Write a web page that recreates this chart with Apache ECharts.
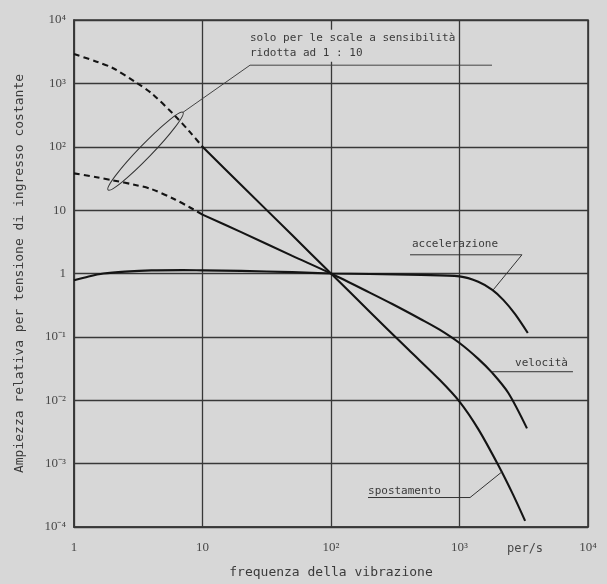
<!DOCTYPE html>
<html>
<head>
<meta charset="utf-8">
<script src="https://cdn.jsdelivr.net/npm/echarts@6/dist/echarts.min.js"></script>
<style>
html,body{margin:0;padding:0;background:#d7d7d7;}
#c{width:607px;height:584px;}
</style>
</head>
<body>
<div id="c"></div>
<script>
// ---- data ----
var xTickLabels = ['1', '10', '10\u00B2', '10\u00B3', '10\u2074'];
var yTickLabels = ['10\u207B\u2074', '10\u207B\u00B3', '10\u207B\u00B2', '10\u207B\u00B9', '1', '10', '10\u00B2', '10\u00B3', '10\u2074'];

// accelerazione
var accelF = [1, 1.3, 1.7, 2.5, 4, 7, 10, 20, 50, 100, 200, 500, 1000, 1400, 1800, 2200, 2700, 3400];
var accelA = [0.78, 0.9, 1.0, 1.07, 1.12, 1.13, 1.12, 1.1, 1.05, 1.0, 0.98, 0.95, 0.9, 0.74, 0.55, 0.38, 0.23, 0.115];

// velocità (dashed part: only for reduced sensitivity scales)
var veloDashF = [1, 1.5, 2, 3, 4, 6, 8, 10];
var veloDashA = [38, 33, 29.5, 25, 21.5, 15, 11, 8.5];
var veloF = [10, 20, 50, 100, 200, 300, 500, 700, 1000, 1400, 1800, 2400, 3350];
var veloA = [8.5, 4.5, 1.9, 1.0, 0.5, 0.33, 0.19, 0.13, 0.08, 0.045, 0.027, 0.013, 0.0036];

// spostamento
var dispDashF = [1, 1.5, 2, 3, 4, 6, 8, 10];
var dispDashA = [2900, 2200, 1750, 1050, 700, 320, 170, 100];
var dispF = [10, 20, 50, 100, 200, 400, 700, 1000, 1400, 2000, 2600, 3240];
var dispA = [100, 25, 4, 1.0, 0.25, 0.063, 0.021, 0.0095, 0.0035, 0.00095, 0.00033, 0.000125];

function pairs(f, a) { return f.map(function (v, i) { return [v, a[i]]; }); }

var chart = echarts.init(document.getElementById('c'), null, {renderer: 'canvas'});
var ink = '#141414';
var gridCol = '#383838';
var txtCol = '#3a3a3a';
var mono = 'DejaVu Sans Mono';

function lineSeries(f, a, dashed) {
  return {
    type: 'line', data: pairs(f, a), showSymbol: false, smooth: 0.3,
    lineStyle: {color: ink, width: 2.1, type: dashed ? [6, 4] : 'solid'},
    silent: true, animation: false, z: 5
  };
}

chart.setOption({
  backgroundColor: '#d7d7d7',
  animation: false,
  grid: {left: 74, right: 19, top: 20, bottom: 51, show: true, borderColor: gridCol, borderWidth: 1.6},
  xAxis: {
    type: 'log', logBase: 10, min: 1, max: 10000, splitNumber: 4,
    name: 'frequenza della vibrazione', nameLocation: 'middle', nameGap: 39,
    nameTextStyle: {color: txtCol, fontSize: 13, fontFamily: mono},
    axisLine: {show: true, lineStyle: {color: gridCol, width: 1.6}},
    axisTick: {show: false},
    axisLabel: {
      color: '#484848', fontSize: 13, fontFamily: 'Liberation Serif', margin: 14,
      formatter: function (v) { return xTickLabels[Math.round(Math.log10(v))]; }
    },
    splitLine: {show: true, lineStyle: {color: gridCol, width: 1.3}},
    minorTick: {show: false}
  },
  yAxis: {
    type: 'log', logBase: 10, min: 0.0001, max: 10000, splitNumber: 8,
    name: 'Ampiezza relativa per tensione di ingresso costante', nameLocation: 'middle', nameGap: 48,
    nameTextStyle: {color: txtCol, fontSize: 13, fontFamily: mono},
    axisLine: {show: true, lineStyle: {color: gridCol, width: 1.6}},
    axisTick: {show: false},
    axisLabel: {
      color: '#484848', fontSize: 13, fontFamily: 'Liberation Serif', margin: 8,
      formatter: function (v) { return yTickLabels[Math.round(Math.log10(v)) + 4]; }
    },
    splitLine: {show: true, lineStyle: {color: gridCol, width: 1.3}}
  },
  series: [
    lineSeries(accelF, accelA, false),
    lineSeries(veloDashF, veloDashA, true),
    lineSeries(veloF, veloA, false),
    lineSeries(dispDashF, dispDashA, true),
    lineSeries(dispF, dispA, false)
  ]
});

// ---- annotations, anchored in data space (log10 f, log10 A) ----
function P(lx, ly) { return chart.convertToPixel({gridIndex: 0}, [Math.pow(10, lx), Math.pow(10, ly)]); }
var thin = {stroke: '#333', lineWidth: 1, fill: 'none'};
var tfont = '11px ' + mono;
var g = [];

// ellipse round the dashed parts + leader + note
var eA = P(0.265, 1.318), eB = P(0.848, 2.543);
var ecx = (eA[0] + eB[0]) / 2, ecy = (eA[1] + eB[1]) / 2;
var erx = Math.sqrt(Math.pow(eB[0] - eA[0], 2) + Math.pow(eB[1] - eA[1], 2)) / 2;
var eang = Math.atan2(eA[1] - eB[1], eB[0] - eA[0]);
g.push({type: 'ellipse', x: ecx, y: ecy, rotation: eang, shape: {cx: 0, cy: 0, rx: erx, ry: 6.5}, style: thin, z: 10});
var l1 = P(1.37, 3.287), l2 = P(3.253, 3.287);
g.push({type: 'polyline', shape: {points: [eB, l1, l2]}, style: {stroke: '#444', lineWidth: 1, fill: 'none'}, z: 10});
var nt = P(1.354, 3.72);
g.push({type: 'text', x: nt[0], y: nt[1] - 8, style: {
  text: 'solo per le scale a sensibilità\nridotta ad 1 : 10', font: tfont, fill: txtCol, lineHeight: 15,
  backgroundColor: '#d7d7d7', padding: [1, 2]
}, z: 9});

// accelerazione
var a1 = P(2.615, 0.295), a2 = P(3.486, 0.295), a3 = P(3.26, -0.264), at = P(2.63, 0.465);
g.push({type: 'polyline', shape: {points: [a1, a2, a3]}, style: thin, z: 10});
g.push({type: 'text', x: at[0], y: at[1], style: {text: 'accelerazione', font: tfont, fill: txtCol, verticalAlign: 'middle'}, z: 10});

// velocità
var v1 = P(3.253, -1.55), v2 = P(3.883, -1.55), vt = P(3.432, -1.41);
g.push({type: 'polyline', shape: {points: [v1, v2]}, style: thin, z: 10});
g.push({type: 'text', x: vt[0], y: vt[1], style: {text: 'velocità', font: tfont, fill: txtCol, verticalAlign: 'middle'}, z: 10});

// spostamento
var s1 = P(2.288, -3.535), s2 = P(3.082, -3.535), s3 = P(3.33, -3.13), st = P(2.288, -3.43);
g.push({type: 'polyline', shape: {points: [s1, s2, s3]}, style: thin, z: 10});
g.push({type: 'text', x: st[0], y: st[1], style: {text: 'spostamento', font: tfont, fill: txtCol, verticalAlign: 'middle'}, z: 10});

// unit label on the frequency axis
var pu = P(3.51, -4);
g.push({type: 'text', x: pu[0], y: pu[1] + 22, style: {text: 'per/s', font: '12px ' + mono, fill: '#484848', align: 'center', verticalAlign: 'middle'}, z: 10});

chart.setOption({graphic: g});
</script>
</body>
</html>
